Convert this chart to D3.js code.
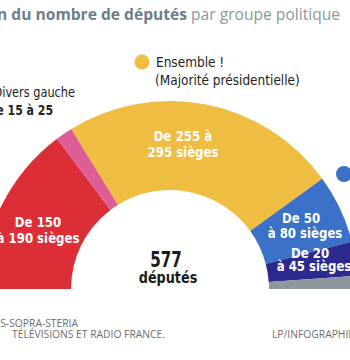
<!DOCTYPE html>
<html lang="fr">
<head>
<meta charset="UTF-8">
<title>Projection du nombre de députés</title>
<script src="https://cdn.jsdelivr.net/npm/d3@7"></script>
<style>
    body { margin: 0; background: #fff; }
    svg { display: block; }
    .narrow { font-family: "DejaVu Sans Condensed", "Roboto", sans-serif; }
    .title { font-family: "Open Sans", "Noto Sans", sans-serif; font-size: 15.6px; }
    .foot { font-family: "Open Sans", "Noto Sans", sans-serif; font-size: 10.3px; fill: #6d6d6d; }
</style>
</head>
<body>
<svg width="350" height="360"></svg>
<script>
    // groupes de gauche à droite dans l'hémicycle
    const groups = ["NUPES", "Divers gauche", "Ensemble !", "LR-UDI", "RN", "Autres"];
    const seats  = [170, 17, 275, 68, 34, 13];
    const seatsLow  = [150, 15, 255, 50, 20];
    const seatsHigh = [190, 25, 295, 80, 45];
    const total = 577;

    const svg = d3.select("svg");

    const color = d3.scaleOrdinal()
        .domain(groups)
        .range(["#dc2e36", "#dc5e94", "#f0bd43", "#3b71c6", "#2c2a8e", "#8d969c"]);

    const pie = d3.pie()
        .sort(null)
        .value(d => d.seats)
        .startAngle(-Math.PI / 2)
        .endAngle(Math.PI / 2);

    const arc = d3.arc().innerRadius(99).outerRadius(188);

    const data = groups.map((g, i) => ({ name: g, seats: seats[i] }));

    const hemi = svg.append("g").attr("transform", "translate(170,289)");
    hemi.selectAll("path")
        .data(pie(data))
        .join("path")
          .attr("d", arc)
          .attr("fill", d => color(d.data.name));

    // texte étroit : police condensée + compression horizontale
    function narrow(x, y, str, size, opt = {}) {
        const sx = opt.sx || (opt.bold ? 0.9 : 0.93);
        const g = svg.append("g")
            .attr("transform", `translate(${x},${y}) scale(${sx},1)`);
        return g.append("text")
            .attr("class", "narrow")
            .attr("font-size", size)
            .attr("font-weight", opt.bold ? "bold" : "normal")
            .attr("text-anchor", opt.anchor || "start")
            .attr("fill", opt.fill || "#222")
            .text(str);
    }

    // titre (coupé à gauche)
    const title = svg.append("text").attr("class", "title")
        .attr("x", 340).attr("y", 20).attr("text-anchor", "end");
    title.append("tspan").attr("font-weight", "bold").attr("fill", "#6e7e89")
        .text("Projection du nombre de députés ");
    title.append("tspan").attr("fill", "#8b979e").text("par groupe politique");

    // légendes
    svg.append("circle").attr("cx", 142).attr("cy", 62).attr("r", 7.5).attr("fill", color("Ensemble !"));
    svg.append("circle").attr("cx", 344).attr("cy", 174).attr("r", 8).attr("fill", color("LR-UDI"));

    narrow(156, 67, groups[2], 14.5);
    narrow(155, 85, "(Majorité présidentielle)", 14.5);

    narrow(75, 97, groups[1], 14.5, { anchor: "end", sx: 0.87 });
    narrow(53, 115, `De ${seatsLow[1]} à ${seatsHigh[1]}`, 14.5, { anchor: "end", bold: true, sx: 0.84 });

    // étiquettes dans les secteurs
    const white = { anchor: "middle", bold: true, fill: "#fff" };
    narrow(38, 227, `De ${seatsLow[0]}`, 14.5, white);
    narrow(38, 243, `à ${seatsHigh[0]} sièges`, 14.5, white);
    narrow(183, 141, `De ${seatsLow[2]} à`, 14.5, white);
    narrow(183, 157, `${seatsHigh[2]} sièges`, 14.5, white);
    narrow(301, 223, `De ${seatsLow[3]}`, 14.5, white);
    narrow(305, 238, `à ${seatsHigh[3]} sièges`, 14.5, white);
    narrow(310, 258, `De ${seatsLow[4]}`, 14.5, white);
    narrow(314, 271, `à ${seatsHigh[4]} sièges`, 14.5, white);

    // total au centre
    narrow(166, 267, total, 21, { anchor: "middle", bold: true, fill: "#1a1a1a", sx: 0.8 });
    narrow(168, 283, "députés", 15, { anchor: "middle", bold: true, fill: "#1a1a1a", sx: 0.95 });

    // sources
    svg.append("text").attr("class", "foot").attr("x", 78).attr("y", 327)
        .attr("text-anchor", "end").text("IPSOS-SOPRA-STERIA");
    svg.append("text").attr("class", "foot").attr("x", 12).attr("y", 338)
        .text("TÉLÉVISIONS ET RADIO FRANCE.");
    svg.append("text").attr("class", "foot").attr("x", 272).attr("y", 338)
        .text("LP/INFOGRAPHIE");
</script>
</body>
</html>
